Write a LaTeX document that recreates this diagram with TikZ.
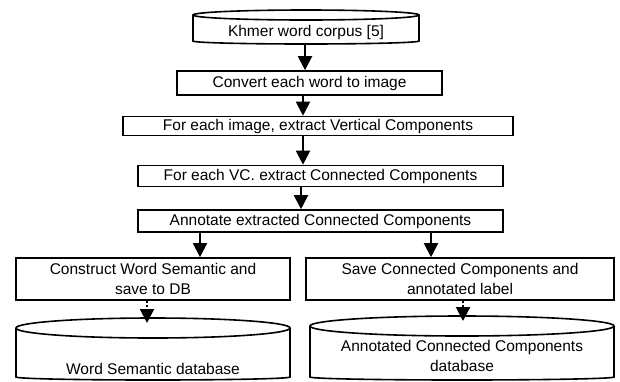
\documentclass[tikz,border=0pt]{standalone}
\usepackage{fontspec}
\setmainfont{Liberation Sans}
\usetikzlibrary{arrows.meta}

\begin{document}
\begin{tikzpicture}
  [x=1pt,y=-1pt,line width=1.6pt,
   every node/.style={font=\fontsize{15.5}{19.5}\selectfont,align=center,inner sep=0pt},
   stepbox/.style={draw,rectangle},
   arr/.style={-{Triangle[width=14pt,length=14pt]},line width=2pt},
   dotarr/.style={arr,dash pattern=on 2pt off 2pt}]
  \useasboundingbox (0,0) rectangle (620,381);

  % corpus at the top
  \draw (193,15) -- (193,41) arc[start angle=180,end angle=0,x radius=113,y radius=3] -- (419,15);
  \draw (306,15) ellipse [x radius=113,y radius=5];
  \node (corpus) at (306,32) {Khmer word corpus [5]};
  \coordinate (corpusbot) at (305,44);

  \node[stepbox,minimum width=265,minimum height=24] (conv) at (309.5,83) {Convert each word to image};
  \node[stepbox,minimum width=390,minimum height=19] (vert) at (318,126) {For each image, extract Vertical Components};
  \node[stepbox,minimum width=365,minimum height=21] (conn) at (320.5,176) {For each VC. extract Connected Components};
  \node[stepbox,minimum width=365,minimum height=22] (annot) at (320.5,221) {Annotate extracted Connected Components};
  \node[stepbox,minimum width=274,minimum height=42] (sem) at (153,279) {Construct Word Semantic and\\save to DB};
  \node[stepbox,minimum width=308,minimum height=42] (save) at (460,279) {Save Connected Components and\\annotated label};

  % databases
  \draw (16,328) -- (16,377) arc[start angle=180,end angle=0,x radius=137,y radius=3] -- (290,328);
  \draw (153,328) ellipse [x radius=137,y radius=10];
  \node (semdb) at (153,369) {Word Semantic database};
  \coordinate (semtop) at (147,323);

  \draw (310,326) -- (310,377) arc[start angle=180,end angle=0,x radius=152,y radius=3] -- (614,326);
  \draw (462,326) ellipse [x radius=152,y radius=10];
  \node (ccdb) at (462,356) {Annotated Connected Components\\database};
  \coordinate (cctop) at (463,321);

\path[arr]
    (corpusbot) edge (corpusbot |- conv.north)
    ([xshift=-6.5pt]conv.south) edge ([xshift=-6.5pt]conv.south |- vert.north)
    ([xshift=-15pt]vert.south) edge ([xshift=-15pt]vert.south |- conn.north)
    ([xshift=-19.5pt]annot.north |- conn.south) edge ([xshift=-19.5pt]annot.north)
    ([xshift=47pt]sem.north |- annot.south) edge ([xshift=47pt]sem.north)
    ([xshift=-29pt]save.north |- annot.south) edge ([xshift=-29pt]save.north)
    ;
\path[dotarr]
    ([xshift=-6pt]sem.south) edge (semtop)
    ([xshift=3pt]save.south) edge (cctop)
    ;

\end{tikzpicture}
\end{document}
